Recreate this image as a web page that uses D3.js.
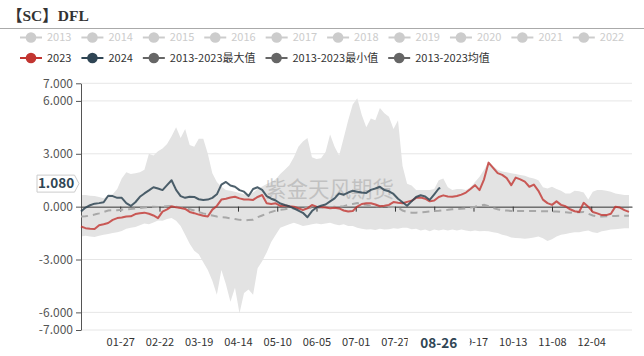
<!DOCTYPE html>
<html><head><meta charset="utf-8">
<script src="https://cdn.jsdelivr.net/npm/d3@7"></script>
<style>body{margin:0;background:#fff;} svg{display:block;}</style>
</head><body><svg id="c" width="644" height="356"></svg>
<script>
// ---------- data ----------
const title = "【SC】DFL";
const watermark = "紫金天风期货";
const inactiveLegend = ["2013","2014","2015","2016","2017","2018","2019","2020","2021","2022"];
const activeLegend = ["2023","2024","2013-2023最大值","2013-2023最小值","2013-2023均值"];
const activeColors = ["#c23531","#2f4554","#666666","#666666","#666666"];
const yTicks = [7,6,3,0,-3,-6,-7];
const xTickDays = ["01-27","02-22","03-19","04-14","05-10","06-05","07-01","07-27","08-22","09-17","10-13","11-08","12-04"];
// 08-22 is hidden by the pointer label in the reference
const xTickLabels = ["01-27","02-22","03-19","04-14","05-10","06-05","07-01","07-27","09-17","10-13","11-08","12-04"];
const pointerDay = "08-26";
const pointerValue = 1.08;

// all calendar days MM-DD (category axis)
const categories = d3.timeDays(new Date(2024,0,1), new Date(2025,0,1)).map(d3.timeFormat("%m-%d"));
// days at which values were read (every third category)
const sampleDays = categories.filter((_, i) => i % 3 === 0);

const s2023 = [-1.13,-1.22,-1.25,-1.27,-1.05,-1.0,-0.93,-0.75,-0.65,-0.62,
-0.56,-0.55,-0.42,-0.37,-0.34,-0.40,-0.50,-0.65,-0.28,-0.15,
0.02,-0.04,-0.08,-0.13,-0.30,-0.37,-0.45,-0.52,-0.56,-0.17,
0.04,0.40,0.45,0.52,0.56,0.47,0.41,0.40,0.38,0.55,
0.66,0.19,0.15,0.19,0.04,0.06,0.02,0.0,-0.09,-0.19,
-0.10,0.09,0.0,-0.02,-0.05,-0.09,-0.06,-0.1,-0.22,-0.28,
-0.25,0.0,0.15,0.19,0.19,0.12,0.02,0.05,0.1,0.26,
0.22,0.19,0.27,0.33,0.5,0.52,0.45,0.3,0.35,0.55,
0.64,0.58,0.56,0.6,0.68,0.8,1.0,1.22,0.94,1.55,
2.5,2.2,1.9,1.8,1.62,1.22,1.65,1.55,1.42,1.13,
1.25,0.9,0.4,0.2,0.1,0.3,0.1,0.02,-0.15,-0.26,
-0.3,0.22,0.0,-0.3,-0.38,-0.48,-0.48,-0.4,0.0,-0.05,
-0.2,-0.3];

const s2024 = [-0.28,-0.05,0.08,0.17,0.2,0.25,0.62,0.6,0.5,0.5,
0.2,0.04,0.25,0.56,0.75,0.92,1.1,1.03,0.94,1.22,
1.5,0.95,0.6,0.5,0.56,0.55,0.42,0.38,0.4,0.5,
0.7,1.25,1.4,1.2,1.13,0.94,0.85,0.6,1.0,1.1,
0.95,0.6,0.45,0.35,0.18,0.09,0.02,-0.1,-0.22,-0.35,
-0.6,-0.25,-0.05,0.05,0.12,0.3,0.47,0.75,0.68,0.8,
0.9,0.85,0.8,0.78,0.95,1.03,1.13,0.94,0.87,0.72,
0.45,0.25,0.05,0.3,0.55,0.65,0.58,0.38,0.7,1.03];
const last2024Day = "08-26";
const last2024Value = 1.06;

const sMax = [0.66,0.66,0.62,0.6,0.55,0.47,0.6,0.7,1.0,1.6,
1.95,1.85,1.9,1.95,2.1,3.0,2.9,3.15,3.3,3.55,
4.0,4.5,3.9,4.4,3.5,3.4,3.85,3.85,3.0,1.9,
1.4,1.13,0.95,0.9,0.85,0.78,0.7,0.66,0.8,1.0,
1.15,1.28,1.4,1.55,1.85,2.1,2.35,2.8,3.4,3.7,
3.9,2.8,2.7,2.75,3.1,4.1,3.4,2.9,3.9,4.9,
5.8,6.15,5.2,4.5,5.0,4.9,5.6,5.3,5.1,4.4,
4.9,2.3,1.3,1.2,0.95,0.94,0.94,0.95,1.0,1.5,
1.6,1.1,0.94,1.0,1.0,0.94,1.1,1.4,1.7,2.1,
2.55,2.3,2.1,2.0,1.95,1.9,1.85,1.8,1.75,1.65,
1.6,1.5,1.1,1.03,1.13,1.0,0.9,0.75,0.75,0.9,
0.88,0.8,0.4,0.85,0.94,0.94,0.9,0.85,0.75,0.7,
0.66,0.66];

const sMin = [-1.7,-1.65,-1.7,-1.72,-1.65,-1.6,-1.55,-1.5,-1.45,-1.38,
-1.25,-1.2,-1.15,-1.05,-0.95,-1.0,-0.9,-0.78,-0.8,-0.7,
-0.65,-0.8,-1.1,-1.6,-2.1,-2.5,-2.7,-3.15,-3.6,-4.2,
-5.0,-3.6,-4.4,-5.4,-4.6,-6.05,-4.9,-4.7,-5.0,-3.5,
-3.1,-2.6,-2.0,-1.6,-1.2,-1.1,-1.0,-0.92,-1.0,-1.1,
-1.05,-1.0,-0.95,-1.0,-0.95,-0.92,-1.0,-1.05,-1.0,-1.1,
-1.1,-1.2,-1.25,-1.3,-1.28,-1.32,-1.25,-1.3,-1.28,-1.22,
-1.25,-1.2,-1.2,-1.28,-1.25,-1.35,-1.3,-1.4,-1.3,-1.35,
-1.3,-1.35,-1.3,-1.35,-1.3,-1.35,-1.4,-1.35,-1.4,-1.38,
-1.4,-1.45,-1.5,-1.6,-1.65,-1.75,-1.78,-1.8,-1.82,-1.8,
-1.75,-1.7,-1.8,-1.95,-1.85,-1.7,-1.6,-1.55,-1.5,-1.45,
-1.45,-1.4,-1.35,-1.45,-1.5,-1.4,-1.35,-1.3,-1.28,-1.25,
-1.22,-1.22];

const sMean = [-0.56,-0.55,-0.5,-0.45,-0.38,-0.3,-0.22,-0.2,-0.2,-0.17,
-0.15,-0.13,-0.1,-0.08,-0.05,-0.02,0.0,-0.02,0.0,0.02,
0.04,0.0,-0.05,-0.1,-0.15,-0.22,-0.3,-0.38,-0.45,-0.5,
-0.56,-0.6,-0.62,-0.66,-0.7,-0.75,-0.78,-0.76,-0.74,-0.6,
-0.5,-0.4,-0.3,-0.22,-0.18,-0.15,-0.1,-0.1,-0.09,-0.09,
-0.08,-0.08,-0.08,-0.05,-0.05,-0.03,0.0,0.0,0.03,0.1,
0.15,0.2,0.15,0.1,0.05,0.03,0.02,0.0,0.0,-0.02,
-0.05,-0.22,-0.3,-0.34,-0.34,-0.33,-0.3,-0.27,-0.25,-0.23,
-0.2,-0.18,-0.15,-0.13,-0.12,-0.1,-0.05,0.0,0.06,0.1,
0.02,-0.08,-0.15,-0.2,-0.22,-0.24,-0.24,-0.24,-0.24,-0.24,
-0.25,-0.25,-0.26,-0.26,-0.27,-0.27,-0.3,-0.32,-0.34,-0.33,
-0.32,-0.3,-0.4,-0.5,-0.56,-0.56,-0.55,-0.54,-0.53,-0.52,
-0.52,-0.52];

// ---------- drawing ----------
const SANS = "'Noto Sans CJK SC','Noto Sans',sans-serif";
const svg = d3.select("#c");
const W = 644, H = 356;
const plot = {left: 81, right: 632, top: 83.3, bottom: 330};

const x = d3.scalePoint().domain(categories).range([plot.left, plot.right]);
const y = d3.scaleLinear().domain([-7, 7]).range([plot.bottom, plot.top]);

svg.append("rect").attr("width", W).attr("height", H).attr("fill", "#fff");

// title
svg.append("text").attr("x", 7).attr("y", 21).text(title)
  .attr("font-family", "'Liberation Serif','DejaVu Serif','Noto Sans CJK SC',serif")
  .attr("font-weight", "bold").attr("font-size", 15.5).attr("fill", "#333");
svg.append("line").attr("x1", 0).attr("x2", W).attr("y1", 28.5).attr("y2", 28.5)
  .attr("stroke", "#aaa").attr("stroke-width", 1);

// legend
function legendRow(names, colors, yc, textColor) {
  let cx = 20;
  names.forEach((name, k) => {
    const col = colors[k];
    svg.append("line").attr("x1", cx).attr("x2", cx + 22).attr("y1", yc).attr("y2", yc)
      .attr("stroke", col).attr("stroke-width", 2);
    svg.append("circle").attr("cx", cx + 11).attr("cy", yc).attr("r", 5.3).attr("fill", col);
    const t = svg.append("text").attr("x", cx + 27).attr("y", yc).attr("dy", "0.36em")
      .attr("font-family", SANS).attr("font-size", 11).attr("fill", textColor).text(name);
    cx += 27 + t.node().getComputedTextLength() + 10;
  });
}
legendRow(inactiveLegend, inactiveLegend.map(() => "#cccccc"), 37.5, "#cccccc");
legendRow(activeLegend, activeColors, 58, "#333");

// grid
svg.append("g").selectAll("line").data(yTicks).join("line")
  .attr("x1", plot.left).attr("x2", plot.right)
  .attr("y1", d => y(d)).attr("y2", d => y(d))
  .attr("stroke", "#e6e6e6").attr("stroke-width", 1);

// band
const bandData = sampleDays.map((d, i) => ({day: d, hi: sMax[i], lo: sMin[i]}));
svg.append("path").datum(bandData)
  .attr("d", d3.area().x(d => x(d.day)).y0(d => y(d.lo)).y1(d => y(d.hi)))
  .attr("fill", "#e3e3e3");

// watermark
svg.append("text").attr("x", 265).attr("y", 197).text(watermark)
  .attr("font-family", SANS).attr("font-size", 21.5).attr("fill", "#9a9a9a").attr("opacity", 0.45);

// y axis
const yAxis = svg.append("g").attr("transform", `translate(${plot.left},0)`)
  .call(d3.axisLeft(y).tickValues(yTicks).tickFormat(d => d.toFixed(3)).tickSize(5).tickSizeOuter(0).tickPadding(3));
yAxis.select(".domain").attr("stroke", "#555");
yAxis.selectAll(".tick line").attr("stroke", "#555");
yAxis.selectAll("text").attr("font-size", 12).attr("fill", "#555").attr("font-family", SANS);

// zero axis with ticks
const zAxis = svg.append("g").attr("transform", `translate(0,${y(0)})`)
  .call(d3.axisBottom(x).tickValues(xTickDays).tickSize(5).tickSizeOuter(0).tickFormat(""));
zAxis.select(".domain").attr("stroke", "#333");
zAxis.selectAll(".tick line").attr("stroke", "#333");

// bottom labels
const bAxis = svg.append("g").attr("transform", `translate(0,${plot.bottom})`)
  .call(d3.axisBottom(x).tickValues(xTickLabels).tickSize(0).tickPadding(8));
bAxis.select(".domain").remove();
bAxis.selectAll("text").attr("font-size", 11).attr("fill", "#333").attr("font-family", SANS);

// mean
const line = d3.line().x(d => x(d.day)).y(d => y(d.v));
svg.append("path").datum(sampleDays.map((d, i) => ({day: d, v: sMean[i]})))
  .attr("d", line).attr("fill", "none").attr("stroke", "#a8a8a8")
  .attr("stroke-width", 2).attr("stroke-dasharray", "7,5");

// 2023
svg.append("path").datum(sampleDays.map((d, i) => ({day: d, v: s2023[i]})))
  .attr("d", line).attr("fill", "none").attr("stroke", "#c23531").attr("stroke-opacity", 0.8)
  .attr("stroke-width", 2).attr("stroke-linejoin", "round");

// 2024
const d2024 = s2024.map((v, i) => ({day: sampleDays[i], v}));
d2024.push({day: last2024Day, v: last2024Value});
svg.append("path").datum(d2024)
  .attr("d", line).attr("fill", "none").attr("stroke", "#2f4554").attr("stroke-opacity", 0.85)
  .attr("stroke-width", 2).attr("stroke-linejoin", "round");

// axis pointer labels
const px = x(pointerDay) - 1.5;
const xl = svg.append("g");
xl.append("rect").attr("x", px - 31).attr("y", plot.bottom + 3).attr("width", 62).attr("height", 22)
  .attr("fill", "#fff");
xl.append("text").attr("x", px).attr("y", plot.bottom + 17.5).attr("text-anchor", "middle")
  .attr("font-size", 13.5).attr("font-weight", "bold").attr("fill", "#2f4554")
  .attr("font-family", SANS).text(pointerDay);

const py = y(pointerValue) - 4;
const yl = svg.append("g");
yl.append("path")
  .attr("d", `M37,${py - 8.5} H74.5 L79,${py} L74.5,${py + 8.5} H37 Z`)
  .attr("fill", "#fff").attr("stroke", "#ccc").attr("stroke-width", 1);
yl.append("text").attr("x", 56).attr("y", py).attr("dy", "0.36em").attr("text-anchor", "middle")
  .attr("font-size", 13.5).attr("font-weight", "bold").attr("fill", "#2f4554")
  .attr("font-family", SANS).text(pointerValue.toFixed(3));
</script></body></html>
